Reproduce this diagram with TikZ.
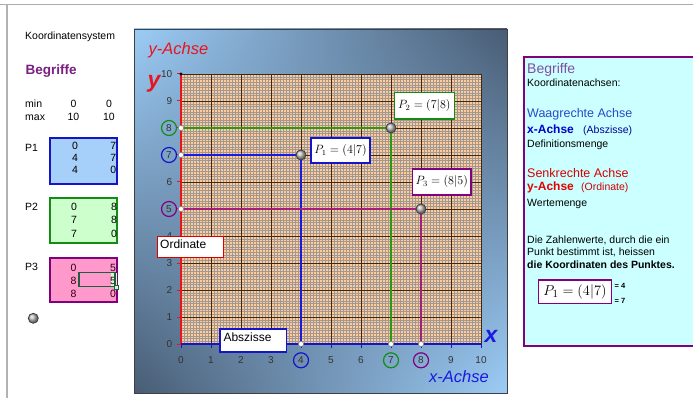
\documentclass[tikz,border=0pt]{standalone}
\usepackage{fontspec}
\setmainfont{Liberation Sans}
\usetikzlibrary{shadings}
\definecolor{pblue}{HTML}{1414C8}
\definecolor{pgreen}{HTML}{148C14}
\definecolor{ppurple}{HTML}{800080}
\definecolor{pred}{HTML}{E8141E}
\definecolor{guideblue}{HTML}{1A1AE0}
\definecolor{guidegreen}{HTML}{2A9A14}
\definecolor{guidepurple}{HTML}{A0207A}
\definecolor{peach}{HTML}{FFCC99}
\definecolor{minorc}{HTML}{A09894}
\definecolor{majorc}{HTML}{3C2814}
\definecolor{bglight}{HTML}{9CCCF6}
\definecolor{bgdark}{HTML}{485C74}
\definecolor{fillblue}{HTML}{A6D0FA}
\definecolor{fillgreen}{HTML}{CCFFCC}
\definecolor{fillpink}{HTML}{FF99CC}
\definecolor{fillcyan}{HTML}{CCFFFF}
\definecolor{begr}{HTML}{7A1E82}
\definecolor{begrtwo}{HTML}{8050A0}
\definecolor{txtblue}{HTML}{2A4AC8}
\definecolor{numc}{HTML}{333333}
\definecolor{selgreen}{HTML}{1F5F3F}
\begin{document}
\begin{tikzpicture}[x=1pt,y=-1pt,
  font=\fontsize{10.5}{12}\selectfont,
  txt/.style={anchor=base west, inner sep=0pt},
  num/.style={anchor=base, inner sep=0pt},
  ptbox/.style={draw, fill=white, line width=1.5pt, inner sep=0pt, font=\fontsize{12}{14}\selectfont},
  tagbox/.style={draw, fill=white, inner sep=0pt},
  tbl/.style={line width=2pt},
  guideline/.style={line width=2pt},
  hollow/.style={draw=gray, fill=white, line width=0.6pt},
  circlab/.style={circle, draw, line width=1.2pt, inner sep=0pt, minimum size=15pt, text=numc, font=\fontsize{10}{12}\selectfont},
  axnum/.style={text=numc, inner sep=0pt, font=\fontsize{10}{12}\selectfont}]
\useasboundingbox (0,0) rectangle (693,398);
\fill[white] (0,0) rectangle (693,398);
% window frame lines
\draw[gray!65, line width=1.5pt] (0,4.5) -- (693,4.5);
\draw[gray!60, line width=2pt] (6.5,4.5) -- (6.5,398);

% ---------- left panel ----------
\node[txt] (lk) at (25,40) {Koordinatensystem};
\node[txt, text=begr, font=\bfseries\fontsize{13.5}{15}\selectfont] (lb) at (25.5,74.5) {Begriffe};
\node[txt] (lmin) at (25,107.5) {min};
\node[num] (lmin1) at (73.5,107.5) {0};
\node[num] (lmin2) at (109,107.5) {0};
\node[txt] (lmax) at (25,121) {max};
\node[num] (lmax1) at (73.5,121) {10};
\node[num] (lmax2) at (109,121) {10};

\node[txt] (lp1) at (25,151.5) {P1};
\draw[tbl, draw=pblue, fill=fillblue] (50,138.3) rectangle (116.7,184.3);
\node[num] (t11) at (75,150) {0}; \node[num] (t12) at (113.3,150) {7};
\node[num] (t13) at (75,161.7) {4}; \node[num] (t14) at (113.3,161.7) {7};
\node[num] (t15) at (75,173.3) {4}; \node[num] (t16) at (113.3,173.3) {0};

\node[txt] (lp2) at (25,210.5) {P2};
\draw[tbl, draw=pgreen, fill=fillgreen] (50,198.3) rectangle (117.3,243.3);
\node[num] (t21) at (74,211) {0}; \node[num] (t22) at (114,211) {8};
\node[num] (t23) at (74,223.5) {7}; \node[num] (t24) at (114,223.5) {8};
\node[num] (t25) at (74,237.5) {7}; \node[num] (t26) at (114,237.5) {0};

\node[txt] (lp3) at (25,270.5) {P3};
\draw[tbl, draw=ppurple, fill=fillpink] (50,257.7) rectangle (117.3,302.3);
\fill[fillgreen] (111,273) rectangle (117,286);
\begin{scope}[text=black!75!purple]
\node[num] (t31) at (73.5,271.5) {0}; \node[num] (t32) at (113,271.5) {5};
\node[num] (t33) at (73.5,284) {8}; \node[num] (t34) at (113,284) {5};
\node[num] (t35) at (73.5,297) {8}; \node[num] (t36) at (113,297) {0};
\end{scope}
\draw[selgreen, line width=1.6pt] (79,272.5) rectangle (115,286.5);
\draw[selgreen, fill=fillgreen, line width=0.5pt] (114,285.5) rectangle (118,289.5);

\shade[ball color=gray!55] (33.3,318.3) circle (5pt);
\draw[black!75, line width=0.8pt] (33.3,318.3) circle (5pt);

% ---------- chart panel ----------
\shade[upper left=bglight, upper right=bgdark, lower left=bgdark, lower right=bglight] (134,29) rectangle (507,393);
\draw[black!75, line width=0.8pt] (134,29) rectangle (507,393);

\node[text=pred, font=\itshape\fontsize{16.5}{18}\selectfont, inner sep=0pt] (yach) at (178.5,50.5) {y-Achse};
\node[text=pred, font=\bfseries\itshape\fontsize{23}{24}\selectfont, inner sep=0pt] (ybig) at (154,84) {y};
\node[text=guideblue, font=\bfseries\itshape\fontsize{23}{24}\selectfont, inner sep=0pt] (xbig) at (491,336.5) {x};
\node[text=guideblue, font=\itshape\fontsize{16.5}{18}\selectfont, inner sep=0pt] (xach) at (459,376.5) {x-Achse};

\coordinate (O) at (181,344);
\begin{scope}[shift={(O)}, x=30pt, y=27pt]
  \fill[peach] (0,0) rectangle (10,10);
  \foreach \i in {1,...,99} {
    \draw[minorc, line width=0.3pt] (\i/10,0) -- (\i/10,10);
    \draw[minorc, line width=0.3pt] (0,\i/10) -- (10,\i/10);
  }
  \foreach \i in {1,...,10} {
    \draw[majorc, line width=0.7pt] (\i,0) -- (\i,10);
    \draw[majorc, line width=0.7pt] (0,\i) -- (10,\i);
  }
  \coordinate (Pa) at (4,7); \coordinate (Pay) at (0,7); \coordinate (Pax) at (4,0);
  \coordinate (Pb) at (7,8); \coordinate (Pby) at (0,8); \coordinate (Pbx) at (7,0);
  \coordinate (Pc) at (8,5); \coordinate (Pcy) at (0,5); \coordinate (Pcx) at (8,0);
  \coordinate (Yt) at (0,10); \coordinate (Xr) at (10,0);
\end{scope}
% guide lines
\draw[guideline, draw=guidegreen] (Pby) -- (Pb) -- (Pbx);
\draw[guideline, draw=guideblue] (Pay) -- (Pa) -- (Pax);
\draw[guideline, draw=guidepurple] (Pcy) -- (Pc) -- (Pcx);
% axes
\draw[pred, line width=2pt] (O) -- (Yt);
\draw[pblue, line width=2pt] (O) -- (Xr);
\begin{scope}[shift={(O)}, x=30pt, y=27pt]
  \foreach \k in {0,...,10} \draw[pred, line width=1pt] (0,\k) -- ++(-4pt,0);
  \foreach \k in {0,...,10} \draw[pblue, line width=1pt] (\k,0) -- ++(0,-4pt);
  \fill[black!80!blue] (0,10) circle (1.6pt);
  % axis numbers
  \foreach \k in {0,1,2,3,4,6,9,10} \node[axnum, anchor=east] (yl\k) at ([xshift=-8.5pt]0,\k) {\k};
  \foreach \k in {0,1,2,3,5,6,9,10} \node[axnum] (xl\k) at ([yshift=-16.3pt]\k,0) {\k};
  \node[circlab, draw=pgreen] (yc8) at ([xshift=-12pt]0,8) {8};
  \node[circlab, draw=pblue] (yc7) at ([xshift=-12pt]0,7) {7};
  \node[circlab, draw=ppurple] (yc5) at ([xshift=-12pt]0,5) {5};
  \node[circlab, draw=pblue] (xc4) at ([yshift=-16.3pt]4,0) {4};
  \node[circlab, draw=pgreen] (xc7) at ([yshift=-16.3pt]7,0) {7};
  \node[circlab, draw=ppurple] (xc8) at ([yshift=-16.3pt]8,0) {8};
\end{scope}
% axis end points
\foreach \q in {Pay,Pby,Pcy,Pax,Pbx,Pcx} \draw[hollow] (\q) circle (2.6pt);
% points
\foreach \q in {Pa,Pb,Pc} {
  \shade[ball color=gray!55] (\q) circle (5pt);
  \draw[black!75, line width=0.8pt] (\q) circle (5pt);
}

% tag boxes
\node[tagbox, draw=red!85!black, line width=0.8pt, minimum width=65.6pt, minimum height=20.6pt] (ordbox) at (190.5,247) {};
\node[txt, font=\fontsize{12}{14}\selectfont] (ordt) at (160,248.5) {Ordinate};
\node[tagbox, draw=pblue, line width=1.5pt, minimum width=66.7pt, minimum height=23pt] (absbox) at (253.3,340.5) {};
\node[txt, font=\fontsize{12}{14}\selectfont] (abst) at (223.3,341.7) {Abszisse};

% point labels
\node[ptbox, draw=pblue, minimum width=59pt, minimum height=25pt] (lab1) at (340.5,150.7) {$P_1=\bigl(4\big|7\bigr)$};
\node[ptbox, draw=pgreen, minimum width=60pt, minimum height=26.3pt] (lab2) at (424.3,105.8) {$P_2=\bigl(7\big|8\bigr)$};
\node[ptbox, draw=ppurple, minimum width=58.7pt, minimum height=26pt] (lab3) at (441.7,182) {$P_3=\bigl(8\big|5\bigr)$};

% ---------- right panel ----------
\fill[fillcyan] (524,57) rectangle (695,346);
\draw[ppurple, line width=2pt] (695,57) -- (524,57) -- (524,346) -- (695,346);
\node[txt, text=begrtwo, font=\fontsize{14}{16}\selectfont] (rb) at (527,74) {Begriffe};
\node[txt] (r1) at (527,86.7) {Koordinatenachsen:};
\node[txt, text=txtblue, font=\fontsize{12.5}{14}\selectfont] (r2) at (527,117.7) {Waagrechte Achse};
\node[txt, text=blue!80!black, font=\bfseries\fontsize{12}{14}\selectfont] (r3) at (527,133.3) {x-Achse};
\node[txt, text=blue!60!black] (r3b) at (583,133.3) {(Abszisse)};
\node[txt] (r4) at (527,147.7) {Definitionsmenge};
\node[txt, text=red!85!black, font=\fontsize{12.5}{14}\selectfont] (r5) at (527,177.7) {Senkrechte Achse};
\node[txt, text=red!90!black, font=\bfseries\fontsize{12}{14}\selectfont] (r6) at (527,190) {y-Achse};
\node[txt, text=red!80!black] (r6b) at (581,190) {(Ordinate)};
\node[txt] (r7) at (527,206.7) {Wertemenge};
\node[txt] (r8) at (527,243.3) {Die Zahlenwerte, durch die ein};
\node[txt] (r9) at (527,255.7) {Punkt bestimmt ist, heissen};
\node[txt, font=\bfseries\fontsize{10.5}{12}\selectfont] (r10) at (527,268.3) {die Koordinaten des Punktes.};
\node[draw=ppurple, fill=white, line width=1.3pt, inner sep=0pt, minimum width=73.4pt, minimum height=23.3pt, font=\fontsize{15}{17}\selectfont] (rbox) at (575,291.7) {$P_1=\bigl(4\big|7\bigr)$};
\node[anchor=west, inner sep=0pt, font=\bfseries\fontsize{7.5}{8}\selectfont] (re4) at (614.5,285.5) {= 4};
\node[anchor=west, inner sep=0pt, font=\bfseries\fontsize{7.5}{8}\selectfont] (re7) at (614.5,300.5) {= 7};
\end{tikzpicture}
\end{document}
